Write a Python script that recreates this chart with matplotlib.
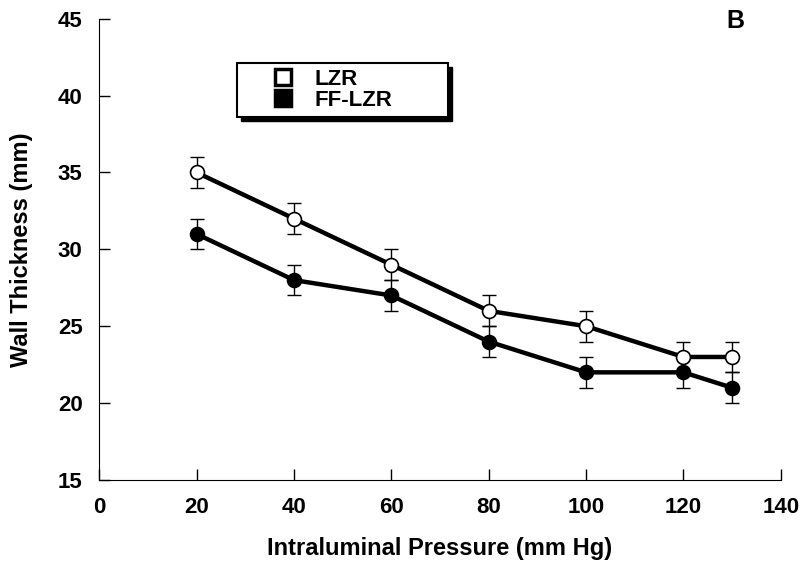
import matplotlib.pyplot as plt
from matplotlib.lines import Line2D
from matplotlib.patches import Rectangle

plt.rcParams['font.family'] = ['Liberation Sans', 'DejaVu Sans']
plt.rcParams['font.weight'] = 'bold'

pressure = [20, 40, 60, 80, 100, 120, 130]
lzr = [35, 32, 29, 26, 25, 23, 23]
lzr_err = [1, 1, 1, 1, 1, 1, 1]
ff_lzr = [31, 28, 27, 24, 22, 22, 21]
ff_lzr_err = [1, 1, 1, 1, 1, 1, 1]

fig = plt.figure(figsize=(8, 5.68), dpi=100)
ax = fig.add_axes([0.124, 0.155, 0.852, 0.812])

# error bars
ax.errorbar(pressure, lzr, yerr=lzr_err, fmt='none', ecolor='black',
            elinewidth=1, capsize=5, capthick=1, zorder=2)
ax.errorbar(pressure, ff_lzr, yerr=ff_lzr_err, fmt='none', ecolor='black',
            elinewidth=1, capsize=5, capthick=1, zorder=2)

# lines and markers
ax.plot(pressure, lzr, color='black', lw=3.2, marker='o', ms=10,
        mfc='white', mec='black', mew=1.2, zorder=3)
ax.plot(pressure, ff_lzr, color='black', lw=3.2, marker='o', ms=10,
        mfc='black', mec='black', mew=1.2, zorder=3)

ax.set_xlim(0, 140)
ax.set_ylim(15, 45)
ax.set_xticks(range(0, 141, 20))
ax.set_yticks(range(15, 46, 5))
ax.spines['top'].set_visible(False)
ax.spines['right'].set_visible(False)
ax.tick_params(direction='in', length=8, width=1, labelsize=16, pad=12)

ax.set_xlabel('Intraluminal Pressure (mm Hg)', fontsize=17, fontweight='bold', labelpad=14)
ax.set_ylabel('Wall Thickness (mm)', fontsize=17, fontweight='bold', labelpad=18)

fig.text(0.919, 0.963, 'B', fontsize=18, fontweight='bold', ha='center', va='center')

# legend box with shadow
x0, y0, w, h = 237 / 800, 1 - 117 / 568, 211 / 800, 54 / 568
fig.patches.append(Rectangle((x0 + 4 / 800, y0 - 4 / 568), w, h, transform=fig.transFigure,
                             facecolor='black', edgecolor='black', zorder=4))
fig.patches.append(Rectangle((x0, y0), w, h, transform=fig.transFigure,
                             facecolor='white', edgecolor='black', lw=1.5, zorder=5))
handles = [Line2D([], [], ls='none', marker='s', ms=11, mfc='white', mec='black', mew=2.5),
           Line2D([], [], ls='none', marker='s', ms=11, mfc='black', mec='black', mew=2.5)]
leg = fig.legend(handles, ['LZR', 'FF-LZR'], loc='center left',
                 bbox_to_anchor=(x0 + 0.03, y0 + h / 2), frameon=False,
                 fontsize=16, handletextpad=0.9, labelspacing=0.0, handlelength=1.0,
                 borderpad=0)
leg.set_zorder(6)

plt.savefig('out.png', dpi=100)
